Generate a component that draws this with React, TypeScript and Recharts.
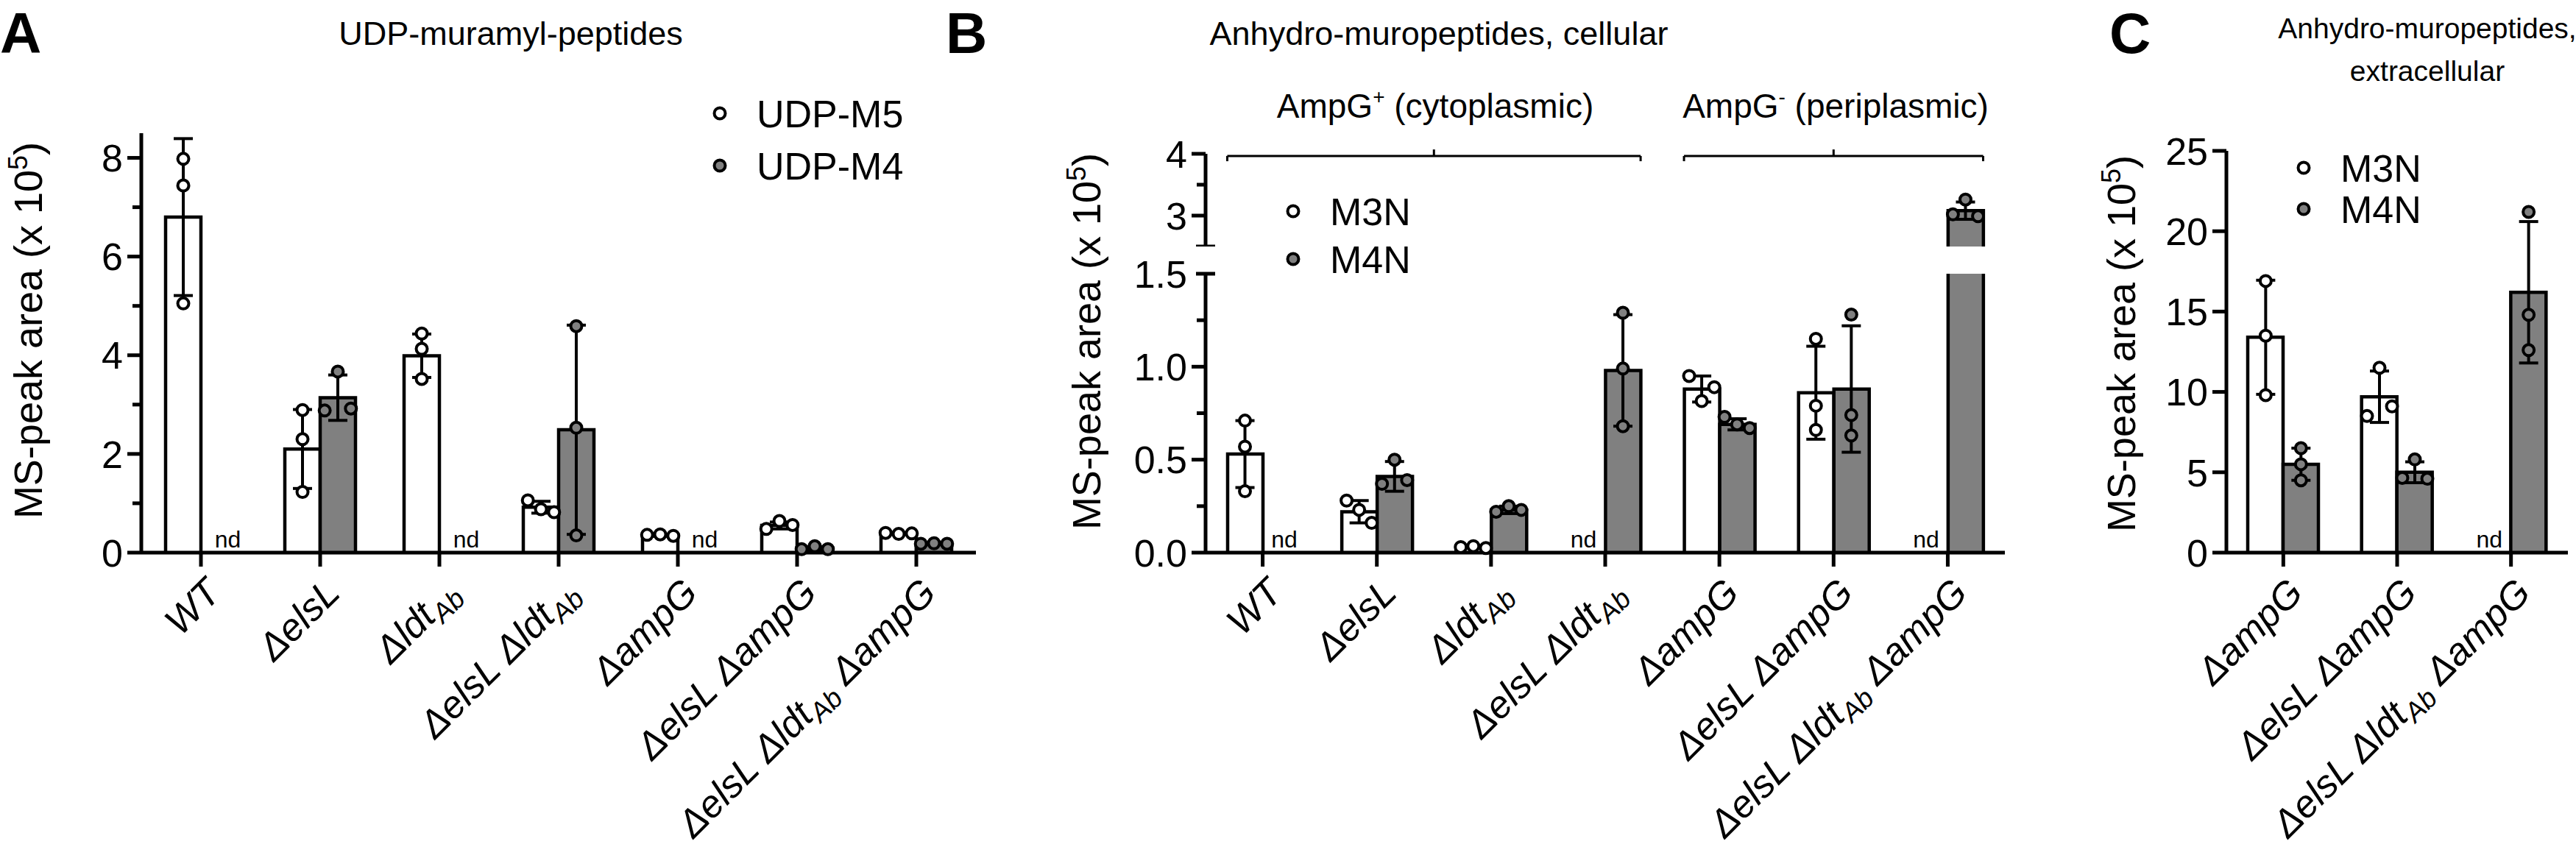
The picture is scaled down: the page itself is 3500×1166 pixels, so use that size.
import React from "react";
import { ComposedChart, Bar, Scatter, XAxis, YAxis, ErrorBar, ReferenceLine } from "recharts";

// ---------------- data ----------------
const CATEGORIES_AB = ["WT", "ΔelsL", "ΔldtAb", "ΔelsL ΔldtAb", "ΔampG", "ΔelsL ΔampG", "ΔelsL ΔldtAb ΔampG"];
const CATEGORIES_C = ["ΔampG", "ΔelsL ΔampG", "ΔelsL ΔldtAb ΔampG"];
const SERIES_A = ["UDP-M5", "UDP-M4"];
const SERIES_BC = ["M3N", "M4N"];

// Panel A: UDP-muramyl-peptides
const A_M5_MEAN = [6.8, 2.1, 3.99, 0.92, 0.35, 0.55, 0.39];
const A_M5_SD = [1.59, 0.8, 0.44, 0.12, 0.02, 0.07, 0.01];
const A_M5_PTS = [[7.98, 7.44, 5.05], [2.89, 2.3, 1.23], [4.44, 4.13, 3.52], [1.06, 0.88, 0.82], [0.36, 0.37, 0.34], [0.48, 0.64, 0.56], [0.4, 0.38, 0.39]];
const A_M4_MEAN = [null, 3.14, null, 2.49, null, 0.09, 0.18];
const A_M4_SD = [null, 0.46, null, 2.12, null, 0.03, 0.01];
const A_M4_PTS = [null, [3.67, 2.88, 2.92], null, [4.59, 2.53, 0.35], null, [0.07, 0.13, 0.07], [0.18, 0.19, 0.18]];

// Panel B: Anhydro-muropeptides, cellular
const B_M3N_MEAN = [0.53, 0.22, 0.03, null, 0.88, 0.86, null];
const B_M3N_SD = [0.18, 0.06, 0.005, null, 0.07, 0.25, null];
const B_M3N_PTS = [[0.71, 0.57, 0.33], [0.28, 0.23, 0.16], [0.03, 0.035, 0.025], null, [0.95, 0.89, 0.815], [1.15, 0.79, 0.66], null];
const B_M4N_MEAN = [null, 0.41, 0.23, 0.98, 0.69, 0.88, 3.08];
const B_M4N_SD = [null, 0.08, 0.02, 0.3, 0.03, 0.34, 0.14];
const B_M4N_PTS = [null, [0.5, 0.37, 0.39], [0.22, 0.25, 0.23], [1.29, 0.99, 0.68], [0.73, 0.69, 0.67], [1.28, 0.74, 0.63], [3.26, 3.02, 2.99]];

// Panel C: Anhydro-muropeptides, extracellular
const C_M3N_MEAN = [13.4, 9.7, null];
const C_M3N_SD = [3.55, 1.6, null];
const C_M3N_PTS = [[16.9, 13.5, 9.8], [11.5, 8.5, 9.1], null];
const C_M4N_MEAN = [5.5, 5.0, 16.2];
const C_M4N_SD = [1.0, 0.65, 4.4];
const C_M4N_PTS = [[6.5, 5.5, 4.5], [5.8, 4.65, 4.6], [21.2, 14.8, 12.6]];

// axis ticks
const TICKS_A = [0, 1, 2, 3, 4, 5, 6, 7, 8];
const TICK_LABELS_A = [0, 2, 4, 6, 8];
const TICKS_B_LOW = [0, 0.25, 0.5, 0.75, 1, 1.25, 1.5];
const TICK_LABELS_B_LOW = [0, 0.5, 1, 1.5];
const TICKS_B_HIGH = [2.5, 3, 3.5, 4];
const TICK_LABELS_B_HIGH = [3, 4];
const TICKS_C = [0, 5, 10, 15, 20, 25];

// brackets in panel B (category index ranges)
const BRACKETS_B = [
  { from: 0, to: 3 },
  { from: 4, to: 6 },
];

// ---------------- style ----------------
const FONT = "'Liberation Sans', Arial, Helvetica, sans-serif";
const GRAY = "#808080";
const BLACK = "#000";
const AXIS_W = 5;
const BAR_STROKE = 4.5;
const BAR_SIZE = 48;
const DOT_R = 7.5;
const SPREAD = 0.11;

type Series = (number | null)[];
type Pts = (number[] | null)[];

const ok = (v: any) => typeof v === "number" && Number.isFinite(v);

function spreadOffsets(vals: number[], thr: number, d: number): number[] {
  const idx = vals.map((_, i) => i).sort((a, b) => vals[a] - vals[b]);
  const clusters: number[][] = [];
  let cur: number[] = [idx[0]];
  for (let k = 1; k < idx.length; k++) {
    if (vals[idx[k]] - vals[idx[k - 1]] < thr) cur.push(idx[k]);
    else {
      clusters.push(cur);
      cur = [idx[k]];
    }
  }
  clusters.push(cur);
  const off = vals.map(() => 0);
  clusters.forEach((c) => {
    const m = [...c].sort((a, b) => a - b);
    const n = m.length;
    m.forEach((mi, j) => {
      off[mi] = (j - (n - 1) / 2) * (n === 2 ? 2 * d : d);
    });
  });
  return off;
}

function OpenBar(props: any) {
  const { x, y, width, height, fill } = props;
  if (!ok(x) || !ok(y) || !ok(width) || !ok(height) || !(height > 0)) return <g />;
  return (
    <g>
      <rect x={x} y={y} width={width} height={height} fill={fill} />
      <path d={`M${x},${y + height}V${y}H${x + width}V${y + height}`} fill="none" stroke={BLACK} strokeWidth={BAR_STROKE} />
    </g>
  );
}

function makeDot(fill: string) {
  return (p: any) => (ok(p.cx) && ok(p.cy) ? <circle cx={p.cx} cy={p.cy} r={DOT_R} fill={fill} stroke={BLACK} strokeWidth={4} /> : <g />);
}
const WhiteDot = makeDot("#fff");
const GrayDot = makeDot(GRAY);
const NoShape = () => <g />;
const NdShape = (p: any) =>
  ok(p.cx) && ok(p.cy) ? (
    <text x={p.cx} y={p.cy - 7} textAnchor="middle" fontSize={32} fontFamily={FONT} fill={BLACK}>
      nd
    </text>
  ) : (
    <g />
  );

function GeneTick(props: any) {
  const { x, y, payload } = props;
  if (!ok(x) || !ok(y) || !payload) return <g />;
  const parts = String(payload.value).split(/(Ab)/).filter((s) => s !== "");
  let shifted = false;
  return (
    <g transform={`translate(${x + 3},${y})`}>
      <text transform="rotate(-45)" textAnchor="end" dy="0.72em" fontSize={52} fontStyle="italic" fontFamily={FONT} fill={BLACK}>
        {parts.map((s, k) => {
          if (s === "Ab") {
            shifted = true;
            return (
              <tspan key={k} fontSize={37} dy={11}>
                Ab
              </tspan>
            );
          }
          const dy = shifted ? -11 : undefined;
          shifted = false;
          return (
            <tspan key={k} dy={dy}>
              {s}
            </tspan>
          );
        })}
      </text>
    </g>
  );
}

function makeYTick(majors: number[], caps: number[], digits: number) {
  return (props: any) => {
    const { x, y, payload } = props;
    if (!ok(x) || !ok(y) || !payload) return <g />;
    const v = payload.value as number;
    const isMajor = majors.includes(v);
    const isCap = caps.includes(v);
    return (
      <g>
        {isCap ? (
          <line x1={x - 13} x2={x + 13} y1={y} y2={y} stroke={BLACK} strokeWidth={AXIS_W} />
        ) : (
          <line x1={x - (isMajor ? 19 : 12)} x2={x} y1={y} y2={y} stroke={BLACK} strokeWidth={AXIS_W} />
        )}
        {isMajor ? (
          <text x={x - 25} y={y} dy="0.36em" textAnchor="end" fontSize={52} fontFamily={FONT} fill={BLACK}>
            {v.toFixed(digits)}
          </text>
        ) : null}
      </g>
    );
  };
}

interface PanelProps {
  cats: string[];
  means: [Series, Series];
  sds: [Series, Series];
  pts: [Pts, Pts];
  domain: [number, number];
  ticks: number[];
  majors: number[];
  caps: number[];
  digits: number;
  left: number;
  width: number;
  height: number;
  marginTop: number;
  yAxisWidth: number;
  showX: boolean;
  overflow: boolean;
  barOff: number;
  ndOff: number;
  thr: number;
  children?: React.ReactNode;
}

function PanelChart(p: PanelProps) {
  const [lo, hi] = p.domain;
  const keep = (v: number | null) => (v != null && v > lo ? v : null);
  const rows = p.cats.map((c, i) => ({ cat: c, s0: keep(p.means[0][i]), s1: keep(p.means[1][i]) }));
  const side = (s: number) => (s === 0 ? -p.barOff : p.barOff);

  const points = [0, 1].map((s) => {
    const out: { x: number; y: number }[] = [];
    p.pts[s].forEach((vals, i) => {
      if (!vals) return;
      const off = spreadOffsets(vals, p.thr, SPREAD);
      vals.forEach((v, k) => {
        if (v < lo || v > hi) return;
        out.push({ x: i + side(s) + off[k], y: v });
      });
    });
    return out;
  });

  const errs: { x: number; y: number; err: number }[] = [];
  [0, 1].forEach((s) => {
    p.means[s].forEach((m, i) => {
      const sd = p.sds[s][i];
      if (m == null || sd == null || m <= lo || m > hi) return;
      errs.push({ x: i + side(s), y: m, err: sd });
    });
  });

  const nds: { x: number; y: number }[] = [];
  if (p.showX) {
    [0, 1].forEach((s) => {
      p.means[s].forEach((m, i) => {
        if (m == null) nds.push({ x: i + (s === 0 ? -p.ndOff : p.ndOff), y: lo });
      });
    });
  }

  const YTick = makeYTick(p.majors, p.caps, p.digits);
  const n = p.cats.length;

  return (
    <div style={{ position: "absolute", left: p.left, top: 0 }}>
      <ComposedChart
        width={p.width}
        height={p.height}
        data={rows}
        margin={{ top: p.marginTop, right: 14, bottom: 0, left: 0 }}
        barGap={0}
      >
        <Bar dataKey="s0" xAxisId="cat" yAxisId="main" barSize={BAR_SIZE} fill="#fff" shape={OpenBar} isAnimationActive={false} />
        <Bar dataKey="s1" xAxisId="cat" yAxisId="main" barSize={BAR_SIZE} fill={GRAY} shape={OpenBar} isAnimationActive={false} />
        {points[0].length ? <Scatter data={points[0]} xAxisId="num" yAxisId="pts" shape={WhiteDot} isAnimationActive={false} /> : null}
        {points[1].length ? <Scatter data={points[1]} xAxisId="num" yAxisId="pts" shape={GrayDot} isAnimationActive={false} /> : null}
        {errs.length ? (
          <Scatter data={errs} xAxisId="num" yAxisId="pts" shape={NoShape} isAnimationActive={false}>
            <ErrorBar dataKey="err" direction="y" width={13} stroke={BLACK} strokeWidth={4} isAnimationActive={false} />
          </Scatter>
        ) : null}
        {nds.length ? <Scatter data={nds} xAxisId="num" yAxisId="pts" shape={NdShape} isAnimationActive={false} /> : null}
        <XAxis
          xAxisId="cat"
          dataKey="cat"
          type="category"
          hide={!p.showX}
          height={p.showX ? 415 : 0}
          interval={0}
          tickSize={19}
          tickMargin={12}
          tick={p.showX ? GeneTick : false}
          axisLine={p.showX ? { stroke: BLACK, strokeWidth: AXIS_W } : false}
          tickLine={p.showX ? { stroke: BLACK, strokeWidth: AXIS_W } : false}
        />
        <XAxis xAxisId="num" type="number" dataKey="x" domain={[-0.5, n - 0.5]} hide tick={false} />
        <YAxis
          yAxisId="main"
          type="number"
          domain={p.domain}
          allowDataOverflow={p.overflow}
          ticks={p.ticks}
          interval={0}
          width={p.yAxisWidth}
          tickSize={0}
          tickMargin={0}
          tickLine={false}
          tick={YTick}
          axisLine={{ stroke: BLACK, strokeWidth: AXIS_W }}
        />
        <YAxis yAxisId="pts" type="number" dataKey="y" domain={p.domain} hide tick={false} />
        {p.children}
      </ComposedChart>
    </div>
  );
}

function YLabel({ x, y }: { x: number; y: number }) {
  return (
    <text transform={`translate(${x},${y}) rotate(-90)`} textAnchor="middle" fontSize={54} fill={BLACK}>
      MS-peak area (x 10
      <tspan fontSize={36} dy={-20}>
        5
      </tspan>
      <tspan dy={20}>)</tspan>
    </text>
  );
}

function LegendItems({ x, ys, names }: { x: number; ys: number[]; names: string[] }) {
  return (
    <g>
      {names.map((nm, i) => (
        <g key={nm}>
          <circle cx={x} cy={ys[i]} r={DOT_R} fill={i === 0 ? "#fff" : GRAY} stroke={BLACK} strokeWidth={4} />
          <text x={x + 50} y={ys[i]} dy="0.36em" fontSize={52} fill={BLACK}>
            {nm}
          </text>
        </g>
      ))}
    </g>
  );
}

function SupText({ x, y, base, sup, rest }: { x: number; y: number; base: string; sup: string; rest: string }) {
  return (
    <text x={x} y={y} textAnchor="middle" fontSize={46} fill={BLACK}>
      {base}
      <tspan fontSize={28} dy={-19}>
        {sup}
      </tspan>
      <tspan dy={19}>{rest}</tspan>
    </text>
  );
}

export default function App() {
  const bracketLines: React.ReactNode[] = [];
  BRACKETS_B.forEach((b, k) => {
    const x0 = b.from - 0.31;
    const x1 = b.to + 0.31;
    const xc = (b.from + b.to) / 2;
    const yb = 3.965;
    const segs = [
      [{ x: x0, y: yb }, { x: x1, y: yb }],
      [{ x: x0, y: yb }, { x: x0, y: 3.88 }],
      [{ x: x1, y: yb }, { x: x1, y: 3.88 }],
      [{ x: xc, y: yb }, { x: xc, y: 4.07 }],
    ];
    segs.forEach((sg, j) =>
      bracketLines.push(
        <ReferenceLine key={`${k}-${j}`} xAxisId="num" yAxisId="main" segment={sg} stroke={BLACK} strokeWidth={3} ifOverflow="visible" />
      )
    );
  });

  return (
    <div style={{ position: "absolute", left: 0, top: 0, width: 3500, height: 1166, background: "#fff", fontFamily: FONT, overflow: "hidden" }}>
      <PanelChart
        cats={CATEGORIES_AB}
        means={[A_M5_MEAN, A_M4_MEAN]}
        sds={[A_M5_SD, A_M4_SD]}
        pts={[A_M5_PTS, A_M4_PTS]}
        domain={[0, 8.5]}
        ticks={TICKS_A}
        majors={TICK_LABELS_A}
        caps={[]}
        digits={0}
        left={0}
        width={1340}
        height={1166}
        marginTop={181}
        yAxisWidth={192}
        showX
        overflow={false}
        barOff={0.148}
        ndOff={0.225}
        thr={0.27}
      />
      <PanelChart
        cats={CATEGORIES_AB}
        means={[B_M3N_MEAN, B_M4N_MEAN]}
        sds={[B_M3N_SD, B_M4N_SD]}
        pts={[B_M3N_PTS, B_M4N_PTS]}
        domain={[0, 1.5]}
        ticks={TICKS_B_LOW}
        majors={TICK_LABELS_B_LOW}
        caps={[1.5]}
        digits={1}
        left={1438}
        width={1300}
        height={1166}
        marginTop={372}
        yAxisWidth={200}
        showX
        overflow
        barOff={0.155}
        ndOff={0.19}
        thr={0.072}
      />
      <PanelChart
        cats={CATEGORIES_AB}
        means={[B_M3N_MEAN, B_M4N_MEAN]}
        sds={[B_M3N_SD, B_M4N_SD]}
        pts={[B_M3N_PTS, B_M4N_PTS]}
        domain={[2.5, 4]}
        ticks={TICKS_B_HIGH}
        majors={TICK_LABELS_B_HIGH}
        caps={[2.5]}
        digits={0}
        left={1438}
        width={1300}
        height={335}
        marginTop={209}
        yAxisWidth={200}
        showX={false}
        overflow
        barOff={0.155}
        ndOff={0.19}
        thr={0.21}
      >
        {bracketLines}
      </PanelChart>
      <PanelChart
        cats={CATEGORIES_C}
        means={[C_M3N_MEAN, C_M4N_MEAN]}
        sds={[C_M3N_SD, C_M4N_SD]}
        pts={[C_M3N_PTS, C_M4N_PTS]}
        domain={[0, 25]}
        ticks={TICKS_C}
        majors={TICKS_C}
        caps={[]}
        digits={0}
        left={2825}
        width={678}
        height={1166}
        marginTop={205}
        yAxisWidth={200}
        showX
        overflow={false}
        barOff={0.155}
        ndOff={0.19}
        thr={0.83}
      />
      <svg width={3500} height={1166} style={{ position: "absolute", left: 0, top: 0, pointerEvents: "none" }} fontFamily={FONT}>
        <text x={0} y={72} fontSize={78} fontWeight="bold" fill={BLACK}>A</text>
        <text x={1285} y={72} fontSize={78} fontWeight="bold" fill={BLACK}>B</text>
        <text x={2866} y={72} fontSize={78} fontWeight="bold" fill={BLACK}>C</text>
        <text x={694} y={61} textAnchor="middle" fontSize={45} fill={BLACK}>UDP-muramyl-peptides</text>
        <text x={1955} y={61} textAnchor="middle" fontSize={45} fill={BLACK}>Anhydro-muropeptides, cellular</text>
        <text x={3298} y={52} textAnchor="middle" fontSize={39} fill={BLACK}>Anhydro-muropeptides,</text>
        <text x={3298} y={110} textAnchor="middle" fontSize={39} fill={BLACK}>extracellular</text>
        <SupText x={1950} y={160} base="AmpG" sup="+" rest=" (cytoplasmic)" />
        <SupText x={2494} y={160} base="AmpG" sup="-" rest=" (periplasmic)" />
        <YLabel x={57} y={449} />
        <YLabel x={1495} y={464} />
        <YLabel x={2901} y={467} />
        <LegendItems x={978} ys={[154, 225]} names={SERIES_A} />
        <LegendItems x={1757} ys={[287, 352]} names={SERIES_BC} />
        <LegendItems x={3130} ys={[228, 284]} names={SERIES_BC} />
      </svg>
    </div>
  );
}
